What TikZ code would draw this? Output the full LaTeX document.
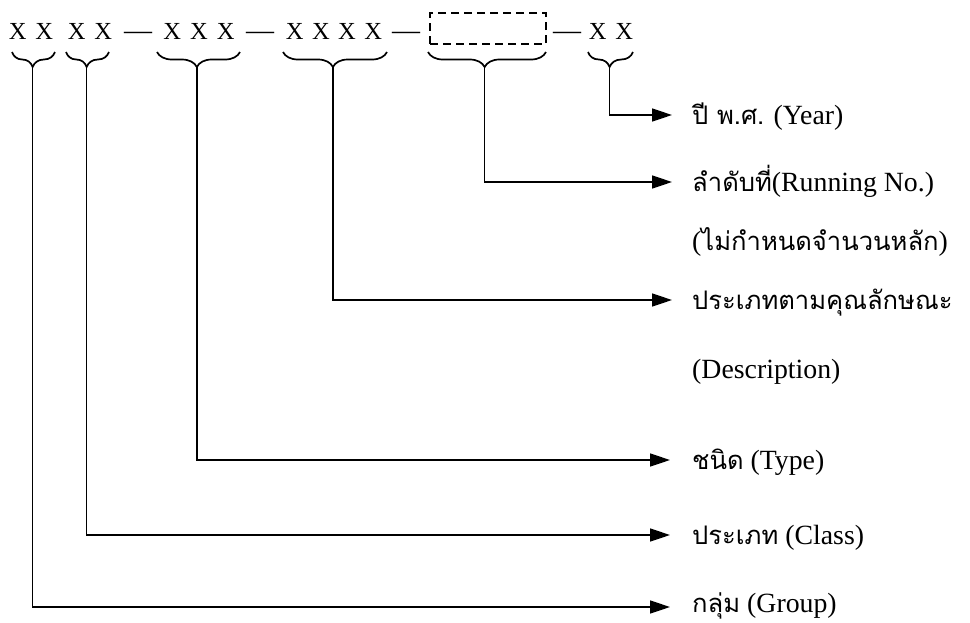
\documentclass[tikz,border=0pt]{standalone}
\usepackage{fontspec}
\setmainfont{Liberation Serif}
\newfontfamily\thai[Script=Thai,Scale=0.92]{Loma}
\usetikzlibrary{arrows.meta,decorations.pathreplacing}
\begin{document}
\begin{tikzpicture}[x=1pt,y=-1pt,
  codetext/.style={inner sep=0pt,anchor=base,font=\fontsize{24.5}{26}\selectfont},
  codedash/.style={inner sep=0pt,anchor=base,font=\fontsize{28}{30}\selectfont},
  brc/.style={line width=1.7pt,decorate,decoration={brace,mirror,amplitude=15pt,aspect=0.48}},
  conn/.style={line width=1.7pt,-{Triangle[length=20pt,width=13pt]}},
  lbl/.style={inner sep=0pt,anchor=base west,font=\fontsize{27.8}{30}\selectfont},
  dbox/.style={draw,line width=1.5pt,dash pattern=on 8pt off 5pt,minimum width=116pt,minimum height=31pt,inner sep=0pt}]
\useasboundingbox (0,0) rectangle (970,622);
% code row
\node[codetext] (g1) at (31,39) {X\kern9pt X};
\node[codetext] (g2) at (90,39) {X\kern9pt X};
\node[codedash] (d1) at (138,39) {—};
\node[codetext] (g3) at (199,39) {X\kern9pt X\kern9pt X};
\node[codedash] (d2) at (260,39) {—};
\node[codetext] (g4) at (334,39) {X\kern8.5pt X\kern8.5pt X\kern8.5pt X};
\node[codedash] (d3) at (406,39) {—};
\node[dbox] (g5) at (488,28.5) {};
\node[codedash] (d4) at (567,39) {—};
\node[codetext] (g6) at (611,39) {X\kern9pt X};
% braces
\draw[brc] (12,52) -- (55,52);
\draw[brc] (66,52) -- (109,52);
\draw[brc] (157,52) -- (240,52);
\draw[brc] (283,52) -- (387,52);
\draw[brc] (428,52) -- (546,52);
\draw[brc] (588,52) -- (633,52);
\coordinate (c1) at (32.6,67);
\coordinate (c2) at (86.6,67);
\coordinate (c3) at (196.8,67);
\coordinate (c4) at (333,67);
\coordinate (c5) at (484.6,67);
\coordinate (c6) at (609.6,67);
% arrow ends
\coordinate (e6) at (672,115);
\coordinate (e5) at (672,182);
\coordinate (e4) at (672,300);
\coordinate (e3) at (670,460);
\coordinate (e2) at (670,535);
\coordinate (e1) at (670,607);
\draw[conn] (c6) |- (e6);
\draw[conn] (c5) |- (e5);
\draw[conn] (c4) |- (e4);
\draw[conn] (c3) |- (e3);
\draw[conn] (c2) |- (e2);
\draw[conn] (c1) |- (e1);
% labels
\node[lbl] (t6) at (692,124) {{\thai ปี พ.ศ.} (Year)};
\node[lbl] (t5) at (692,191) {{\thai ลำดับที่}(Running No.)};
\node[lbl] (t5b) at (692,250) {({\thai ไม่กำหนดจำนวนหลัก})};
\node[lbl] (t4) at (692,309) {\thai ประเภทตามคุณลักษณะ};
\node[lbl] (t4b) at (692,378) {(Description)};
\node[lbl] (t3) at (692,469) {{\thai ชนิด} (Type)};
\node[lbl] (t2) at (692,544) {{\thai ประเภท} (Class)};
\node[lbl] (t1) at (692,612) {{\thai กลุ่ม} (Group)};
\end{tikzpicture}
\end{document}
